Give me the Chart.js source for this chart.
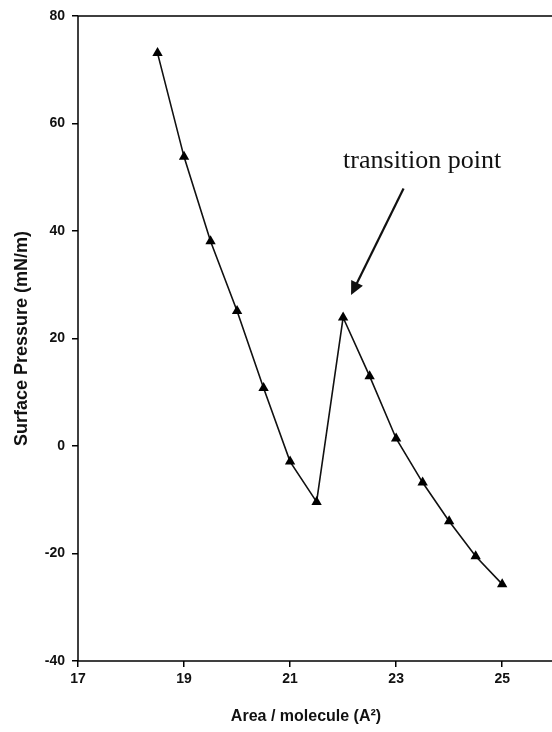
<!DOCTYPE html>
<html>
<head>
<meta charset="utf-8">
<script src="https://cdn.jsdelivr.net/npm/chart.js@4"></script>
<style>
  html, body { margin: 0; padding: 0; background: #fff; overflow: hidden; }
  #wrap { width: 620px; height: 732px; }
</style>
</head>
<body>
<div id="wrap"><canvas id="chart" width="620" height="732"></canvas></div>
<script>
const areas = [18.5, 19, 19.5, 20, 20.5, 21, 21.5, 22, 22.5, 23, 23.5, 24, 24.5, 25];
const pressures = [73.1, 53.8, 38.1, 25.1, 10.8, -2.9, -10.4, 23.9, 13.0, 1.4, -6.8, -14.0, -20.5, -25.7];
const xTicks = [17, 19, 21, 23, 25, 27];
const yTicks = [-40, -20, 0, 20, 40, 60, 80];

const annotationText = 'transition point';
const textAt = [22.0, 51.7];
const arrowFrom = [23.14, 47.9];
const arrowTo = [22.15, 28.1];

const frame = {
  id: 'frame',
  afterDraw(chart) {
    const { ctx, chartArea: a, scales } = chart;
    ctx.save();
    ctx.strokeStyle = '#000';
    ctx.lineWidth = 1.5;
    ctx.strokeRect(a.left, a.top, a.right - a.left, a.bottom - a.top);

    // annotation text + arrow
    ctx.fillStyle = '#111';
    ctx.font = '26px "Liberation Serif", serif';
    ctx.textAlign = 'left';
    ctx.textBaseline = 'alphabetic';
    ctx.fillText(annotationText, scales.x.getPixelForValue(textAt[0]), scales.y.getPixelForValue(textAt[1]));

    const x1 = scales.x.getPixelForValue(arrowFrom[0]), y1 = scales.y.getPixelForValue(arrowFrom[1]);
    const x2 = scales.x.getPixelForValue(arrowTo[0]), y2 = scales.y.getPixelForValue(arrowTo[1]);
    const ang = Math.atan2(y2 - y1, x2 - x1);
    const head = 15;
    ctx.strokeStyle = '#111';
    ctx.lineWidth = 2.2;
    ctx.beginPath();
    ctx.moveTo(x1, y1);
    ctx.lineTo(x2 - Math.cos(ang) * head * 0.8, y2 - Math.sin(ang) * head * 0.8);
    ctx.stroke();
    ctx.beginPath();
    ctx.moveTo(x2, y2);
    ctx.lineTo(x2 - head * Math.cos(ang - 0.45), y2 - head * Math.sin(ang - 0.45));
    ctx.lineTo(x2 - head * Math.cos(ang + 0.45), y2 - head * Math.sin(ang + 0.45));
    ctx.closePath();
    ctx.fill();

    // x axis title
    ctx.font = 'bold 16px "Liberation Sans", Arial, sans-serif';
    ctx.textAlign = 'center';
    ctx.fillText('Area / molecule (A²)', 306, 721);
    ctx.restore();
  }
};

new Chart(document.getElementById('chart'), {
  type: 'scatter',
  data: {
    datasets: [{
      data: areas.map((x, i) => ({ x, y: pressures[i] })),
      showLine: true,
      borderColor: '#111',
      borderWidth: 1.6,
      backgroundColor: '#000',
      pointStyle: 'triangle',
      pointRadius: 6,
      pointBorderWidth: 0,
      tension: 0
    }]
  },
  options: {
    responsive: false,
    animation: false,
    layout: { padding: { top: 16, right: 7, left: 0, bottom: 0 } },
    plugins: { legend: { display: false }, tooltip: { enabled: false } },
    scales: {
      x: {
        type: 'linear',
        min: 17, max: 27,
        afterBuildTicks: s => { s.ticks = xTicks.map(v => ({ value: v })); },
        afterFit: s => { s.height = 71; },
        grid: { drawOnChartArea: false, tickLength: 6, color: '#000', lineWidth: 1.5 },
        border: { display: false },
        ticks: { color: '#111', font: { family: '"Liberation Sans", Arial', size: 14, weight: 'bold' }, padding: 4 },
      },
      y: {
        min: -40, max: 80,
        afterBuildTicks: s => { s.ticks = yTicks.map(v => ({ value: v })); },
        afterFit: s => { s.width = 78; },
        grid: { drawOnChartArea: false, tickLength: 6, color: '#000', lineWidth: 1.5 },
        border: { display: false },
        ticks: { color: '#111', font: { family: '"Liberation Sans", Arial', size: 14, weight: 'bold' }, padding: 7 },
        title: { display: true, text: 'Surface Pressure (mN/m)', color: '#111',
                 font: { family: '"Liberation Sans", Arial', size: 18, weight: 'bold' }, padding: { top: 11 } }
      }
    }
  },
  plugins: [frame]
});
</script>
</body>
</html>
